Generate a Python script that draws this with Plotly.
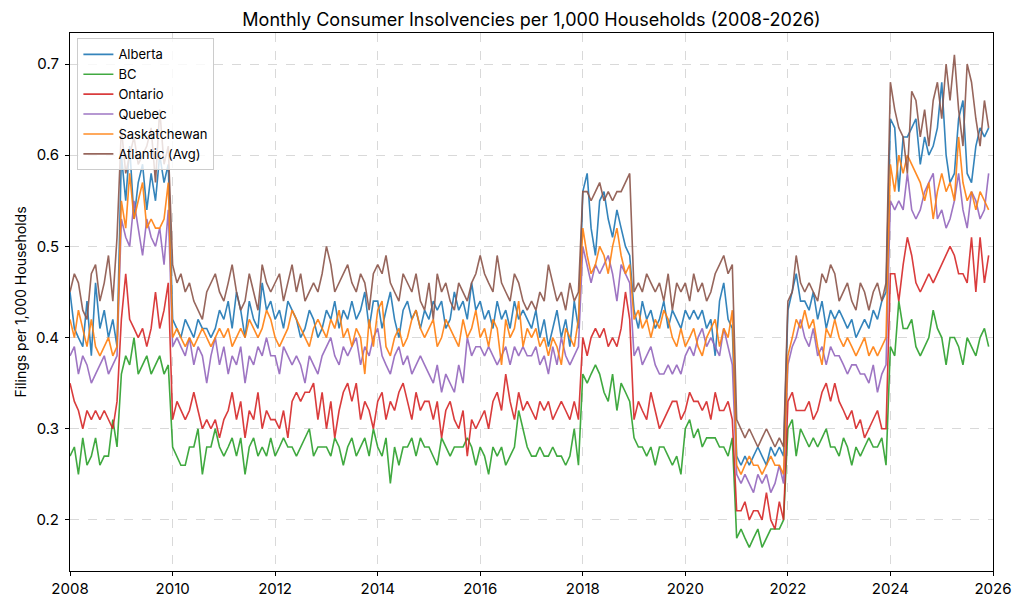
import pandas as pd
import plotly.graph_objects as go

# monthly readings, Jan 2008 .. Dec 2025 (one row per year)
alberta = [
    0.45, 0.41, 0.40, 0.39, 0.44, 0.38, 0.46, 0.41, 0.43, 0.40, 0.42, 0.39,
    0.60, 0.55, 0.61, 0.53, 0.57, 0.59, 0.54, 0.58, 0.55, 0.60, 0.57, 0.59,
    0.42, 0.41, 0.40, 0.42, 0.41, 0.40, 0.42, 0.41, 0.41, 0.40, 0.41, 0.43,
    0.42, 0.44, 0.41, 0.45, 0.43, 0.40, 0.44, 0.42, 0.41, 0.46, 0.43, 0.44,
    0.42, 0.43, 0.41, 0.44, 0.43, 0.42, 0.40, 0.41, 0.43, 0.42, 0.40, 0.41,
    0.43, 0.42, 0.44, 0.41, 0.43, 0.42, 0.44, 0.42, 0.43, 0.45, 0.41, 0.44,
    0.44, 0.41, 0.43, 0.45, 0.42, 0.40, 0.43, 0.44, 0.42, 0.43, 0.41, 0.43,
    0.42, 0.44, 0.43, 0.44, 0.41, 0.42, 0.45, 0.43, 0.44, 0.42, 0.46, 0.43,
    0.44, 0.42, 0.43, 0.41, 0.44, 0.42, 0.43, 0.41, 0.44, 0.42, 0.43, 0.42,
    0.41, 0.43, 0.40, 0.42, 0.39, 0.41, 0.43, 0.40, 0.42, 0.39, 0.44, 0.41,
    0.56, 0.58, 0.52, 0.49, 0.55, 0.56, 0.53, 0.51, 0.54, 0.52, 0.50, 0.49,
    0.43, 0.41, 0.44, 0.42, 0.43, 0.41, 0.42, 0.44, 0.41, 0.43, 0.42, 0.41,
    0.43, 0.42, 0.43, 0.42, 0.43, 0.41, 0.42, 0.38, 0.44, 0.46, 0.42, 0.41,
    0.27, 0.26, 0.27, 0.26, 0.27, 0.28, 0.27, 0.26, 0.28, 0.27, 0.28, 0.27,
    0.43, 0.45, 0.47, 0.44, 0.44, 0.43, 0.45, 0.42, 0.44, 0.41, 0.43, 0.42,
    0.43, 0.42, 0.41, 0.42, 0.40, 0.41, 0.42, 0.41, 0.43, 0.42, 0.44, 0.45,
    0.64, 0.63, 0.56, 0.62, 0.62, 0.63, 0.64, 0.59, 0.62, 0.60, 0.61, 0.63,
    0.68, 0.60, 0.57, 0.58, 0.64, 0.66, 0.58, 0.57, 0.61, 0.63, 0.62, 0.63,
]
bc = [
    0.27, 0.28, 0.25, 0.29, 0.26, 0.27, 0.29, 0.26, 0.27, 0.27, 0.31, 0.28,
    0.36, 0.38, 0.37, 0.40, 0.36, 0.37, 0.38, 0.36, 0.37, 0.38, 0.36, 0.37,
    0.28, 0.27, 0.26, 0.26, 0.28, 0.28, 0.30, 0.25, 0.28, 0.28, 0.30, 0.28,
    0.27, 0.28, 0.29, 0.27, 0.29, 0.25, 0.28, 0.29, 0.27, 0.28, 0.27, 0.29,
    0.27, 0.28, 0.29, 0.28, 0.28, 0.27, 0.28, 0.29, 0.30, 0.27, 0.28, 0.28,
    0.28, 0.27, 0.29, 0.28, 0.26, 0.28, 0.29, 0.27, 0.28, 0.29, 0.27, 0.30,
    0.28, 0.27, 0.29, 0.24, 0.28, 0.26, 0.28, 0.28, 0.29, 0.27, 0.29, 0.28,
    0.28, 0.27, 0.26, 0.29, 0.28, 0.27, 0.28, 0.28, 0.28, 0.29, 0.28, 0.26,
    0.28, 0.27, 0.25, 0.28, 0.27, 0.28, 0.26, 0.27, 0.28, 0.32, 0.30, 0.28,
    0.27, 0.27, 0.28, 0.27, 0.27, 0.28, 0.27, 0.27, 0.26, 0.27, 0.30, 0.26,
    0.36, 0.35, 0.36, 0.37, 0.36, 0.34, 0.33, 0.36, 0.32, 0.35, 0.34, 0.33,
    0.29, 0.28, 0.28, 0.27, 0.28, 0.26, 0.28, 0.28, 0.27, 0.26, 0.27, 0.25,
    0.30, 0.31, 0.29, 0.30, 0.28, 0.29, 0.29, 0.29, 0.28, 0.28, 0.27, 0.29,
    0.18, 0.19, 0.18, 0.17, 0.18, 0.19, 0.17, 0.18, 0.19, 0.19, 0.19, 0.20,
    0.30, 0.31, 0.27, 0.30, 0.29, 0.28, 0.29, 0.28, 0.29, 0.30, 0.28, 0.28,
    0.27, 0.29, 0.28, 0.26, 0.28, 0.27, 0.28, 0.29, 0.28, 0.28, 0.29, 0.26,
    0.39, 0.38, 0.44, 0.41, 0.41, 0.42, 0.39, 0.38, 0.39, 0.40, 0.43, 0.41,
    0.40, 0.37, 0.40, 0.40, 0.39, 0.37, 0.40, 0.39, 0.38, 0.40, 0.41, 0.39,
]
ontario = [
    0.35, 0.33, 0.32, 0.30, 0.32, 0.31, 0.32, 0.31, 0.32, 0.31, 0.30, 0.33,
    0.42, 0.47, 0.42, 0.41, 0.40, 0.41, 0.39, 0.41, 0.45, 0.41, 0.43, 0.46,
    0.31, 0.33, 0.32, 0.31, 0.32, 0.34, 0.32, 0.30, 0.31, 0.30, 0.31, 0.29,
    0.31, 0.32, 0.34, 0.31, 0.33, 0.29, 0.32, 0.31, 0.34, 0.30, 0.32, 0.31,
    0.31, 0.30, 0.32, 0.29, 0.33, 0.34, 0.33, 0.34, 0.34, 0.35, 0.31, 0.34,
    0.30, 0.33, 0.29, 0.32, 0.34, 0.35, 0.33, 0.35, 0.31, 0.33, 0.32, 0.30,
    0.33, 0.34, 0.31, 0.33, 0.32, 0.34, 0.35, 0.33, 0.31, 0.34, 0.32, 0.33,
    0.33, 0.31, 0.33, 0.29, 0.32, 0.33, 0.31, 0.30, 0.32, 0.27, 0.31, 0.30,
    0.31, 0.32, 0.30, 0.33, 0.34, 0.32, 0.36, 0.33, 0.31, 0.34, 0.32, 0.33,
    0.32, 0.31, 0.33, 0.32, 0.33, 0.31, 0.32, 0.33, 0.32, 0.31, 0.33, 0.31,
    0.40, 0.38, 0.40, 0.41, 0.40, 0.41, 0.39, 0.40, 0.39, 0.41, 0.45, 0.42,
    0.31, 0.33, 0.32, 0.31, 0.34, 0.32, 0.30, 0.31, 0.32, 0.33, 0.33, 0.31,
    0.32, 0.34, 0.33, 0.33, 0.32, 0.33, 0.31, 0.34, 0.32, 0.32, 0.33, 0.31,
    0.21, 0.21, 0.22, 0.20, 0.21, 0.21, 0.20, 0.23, 0.20, 0.19, 0.22, 0.20,
    0.33, 0.34, 0.32, 0.32, 0.32, 0.33, 0.31, 0.32, 0.34, 0.35, 0.33, 0.35,
    0.33, 0.32, 0.31, 0.32, 0.30, 0.31, 0.29, 0.30, 0.31, 0.32, 0.30, 0.30,
    0.47, 0.47, 0.44, 0.48, 0.51, 0.49, 0.46, 0.45, 0.46, 0.47, 0.46, 0.47,
    0.48, 0.49, 0.50, 0.49, 0.47, 0.47, 0.46, 0.51, 0.45, 0.51, 0.46, 0.49,
]
quebec = [
    0.38, 0.39, 0.36, 0.38, 0.37, 0.35, 0.36, 0.37, 0.38, 0.36, 0.37, 0.38,
    0.53, 0.51, 0.50, 0.55, 0.52, 0.49, 0.53, 0.51, 0.50, 0.52, 0.48, 0.54,
    0.39, 0.40, 0.39, 0.38, 0.40, 0.37, 0.39, 0.38, 0.35, 0.38, 0.40, 0.37,
    0.39, 0.36, 0.38, 0.37, 0.39, 0.35, 0.38, 0.37, 0.39, 0.38, 0.40, 0.38,
    0.38, 0.36, 0.39, 0.38, 0.37, 0.38, 0.37, 0.35, 0.38, 0.37, 0.36, 0.38,
    0.39, 0.40, 0.38, 0.37, 0.39, 0.38, 0.39, 0.40, 0.37, 0.39, 0.38, 0.40,
    0.41, 0.38, 0.37, 0.36, 0.38, 0.39, 0.37, 0.38, 0.36, 0.37, 0.38, 0.37,
    0.36, 0.35, 0.37, 0.34, 0.36, 0.35, 0.34, 0.37, 0.35, 0.40, 0.38, 0.39,
    0.39, 0.38, 0.39, 0.38, 0.37, 0.38, 0.39, 0.37, 0.39, 0.38, 0.39, 0.38,
    0.38, 0.39, 0.37, 0.38, 0.36, 0.39, 0.37, 0.40, 0.38, 0.37, 0.38, 0.39,
    0.50, 0.48, 0.46, 0.48, 0.47, 0.48, 0.49, 0.47, 0.44, 0.48, 0.47, 0.46,
    0.38, 0.39, 0.37, 0.38, 0.39, 0.37, 0.36, 0.36, 0.37, 0.36, 0.37, 0.36,
    0.38, 0.39, 0.38, 0.40, 0.41, 0.39, 0.40, 0.39, 0.38, 0.41, 0.39, 0.37,
    0.25, 0.24, 0.25, 0.24, 0.23, 0.25, 0.24, 0.25, 0.23, 0.24, 0.26, 0.24,
    0.37, 0.39, 0.40, 0.42, 0.40, 0.39, 0.41, 0.38, 0.39, 0.37, 0.39, 0.38,
    0.38, 0.37, 0.36, 0.37, 0.37, 0.36, 0.36, 0.35, 0.37, 0.34, 0.36, 0.37,
    0.55, 0.54, 0.55, 0.54, 0.58, 0.54, 0.53, 0.54, 0.56, 0.57, 0.58, 0.53,
    0.54, 0.52, 0.53, 0.55, 0.58, 0.54, 0.52, 0.56, 0.55, 0.53, 0.54, 0.58,
]
saskatchewan = [
    0.42, 0.40, 0.43, 0.41, 0.39, 0.42, 0.39, 0.38, 0.39, 0.40, 0.38, 0.39,
    0.55, 0.52, 0.58, 0.53, 0.55, 0.57, 0.52, 0.53, 0.52, 0.52, 0.53, 0.57,
    0.40, 0.41, 0.40, 0.39, 0.40, 0.39, 0.40, 0.41, 0.40, 0.39, 0.40, 0.41,
    0.40, 0.41, 0.39, 0.40, 0.41, 0.40, 0.42, 0.41, 0.40, 0.41, 0.43, 0.42,
    0.40, 0.39, 0.40, 0.41, 0.43, 0.42, 0.41, 0.40, 0.39, 0.41, 0.42, 0.41,
    0.40, 0.42, 0.41, 0.43, 0.40, 0.41, 0.39, 0.41, 0.40, 0.36, 0.42, 0.39,
    0.43, 0.44, 0.39, 0.38, 0.40, 0.41, 0.39, 0.40, 0.42, 0.43, 0.41, 0.40,
    0.41, 0.42, 0.39, 0.40, 0.42, 0.41, 0.40, 0.39, 0.42, 0.40, 0.41, 0.43,
    0.40, 0.41, 0.39, 0.42, 0.41, 0.37, 0.42, 0.40, 0.41, 0.44, 0.39, 0.41,
    0.40, 0.41, 0.39, 0.40, 0.38, 0.40, 0.39, 0.37, 0.41, 0.40, 0.39, 0.42,
    0.52, 0.49, 0.47, 0.48, 0.50, 0.49, 0.47, 0.50, 0.52, 0.49, 0.47, 0.48,
    0.42, 0.43, 0.41, 0.42, 0.40, 0.42, 0.41, 0.43, 0.42, 0.40, 0.39, 0.41,
    0.39, 0.40, 0.41, 0.39, 0.38, 0.40, 0.41, 0.42, 0.39, 0.41, 0.40, 0.43,
    0.26, 0.25, 0.26, 0.27, 0.26, 0.26, 0.25, 0.26, 0.27, 0.26, 0.26, 0.25,
    0.38, 0.40, 0.42, 0.41, 0.43, 0.41, 0.42, 0.39, 0.37, 0.41, 0.40, 0.42,
    0.40, 0.39, 0.40, 0.39, 0.38, 0.39, 0.40, 0.38, 0.39, 0.38, 0.39, 0.40,
    0.59, 0.56, 0.60, 0.58, 0.60, 0.59, 0.58, 0.57, 0.55, 0.57, 0.53, 0.56,
    0.58, 0.56, 0.57, 0.55, 0.62, 0.57, 0.55, 0.56, 0.54, 0.56, 0.55, 0.54,
]
atlantic = [
    0.45, 0.47, 0.46, 0.43, 0.42, 0.47, 0.48, 0.44, 0.46, 0.49, 0.44, 0.51,
    0.63, 0.58, 0.60, 0.62, 0.59, 0.60, 0.61, 0.63, 0.57, 0.65, 0.59, 0.61,
    0.48, 0.46, 0.47, 0.45, 0.46, 0.44, 0.43, 0.42, 0.45, 0.46, 0.47, 0.45,
    0.44, 0.46, 0.48, 0.45, 0.43, 0.44, 0.47, 0.45, 0.43, 0.48, 0.46, 0.45,
    0.46, 0.47, 0.44, 0.46, 0.48, 0.45, 0.47, 0.44, 0.45, 0.46, 0.45, 0.47,
    0.50, 0.48, 0.45, 0.46, 0.47, 0.48, 0.46, 0.45, 0.47, 0.46, 0.43, 0.47,
    0.48, 0.47, 0.49, 0.46, 0.45, 0.44, 0.47, 0.46, 0.45, 0.47, 0.44, 0.43,
    0.46, 0.42, 0.47, 0.45, 0.46, 0.44, 0.43, 0.46, 0.45, 0.44, 0.46, 0.47,
    0.49, 0.47, 0.46, 0.45, 0.49, 0.46, 0.45, 0.44, 0.47, 0.46, 0.44, 0.43,
    0.44, 0.43, 0.45, 0.44, 0.48, 0.46, 0.44, 0.45, 0.43, 0.46, 0.44, 0.45,
    0.56, 0.56, 0.55, 0.56, 0.57, 0.55, 0.56, 0.55, 0.56, 0.56, 0.57, 0.58,
    0.45, 0.46, 0.45, 0.47, 0.46, 0.45, 0.46, 0.44, 0.47, 0.43, 0.46, 0.45,
    0.46, 0.44, 0.47, 0.45, 0.46, 0.44, 0.45, 0.47, 0.48, 0.49, 0.47, 0.48,
    0.31, 0.30, 0.29, 0.30, 0.29, 0.28, 0.29, 0.30, 0.29, 0.28, 0.29, 0.28,
    0.44, 0.45, 0.49, 0.46, 0.45, 0.46, 0.45, 0.44, 0.47, 0.46, 0.48, 0.47,
    0.44, 0.45, 0.46, 0.44, 0.43, 0.46, 0.45, 0.43, 0.45, 0.46, 0.44, 0.46,
    0.68, 0.65, 0.63, 0.62, 0.58, 0.67, 0.66, 0.62, 0.65, 0.61, 0.66, 0.68,
    0.64, 0.70, 0.66, 0.71, 0.65, 0.61, 0.70, 0.68, 0.64, 0.61, 0.66, 0.63,
]

regions = ["Alberta", "BC", "Ontario", "Quebec", "Saskatchewan", "Atlantic (Avg)"]
colors = ["#1f77b4", "#2ca02c", "#d62728", "#9467bd", "#ff7f0e", "#8c564b"]
series = [alberta, bc, ontario, quebec, saskatchewan, atlantic]

months = pd.date_range("2008-01-01", periods=len(alberta), freq="MS")

fig = go.Figure()
for name, vals, col in zip(regions, series, colors):
    fig.add_trace(go.Scatter(x=months, y=vals, mode="lines", name=name,
                             line=dict(color=col, width=1.6), opacity=0.9))

axis_style = dict(showline=True, linecolor="black", linewidth=1, mirror=True,
                  ticks="outside", ticklen=4, tickcolor="black",
                  showgrid=True, gridcolor="#d9d9d9", griddash="dash", gridwidth=1,
                  zeroline=False, tickfont=dict(size=15, color="black"))

# page body adds an 8px offset, margins are shifted to compensate
fig.update_layout(
    width=1022, height=607,
    margin=dict(l=57, r=37, t=25, b=44),
    paper_bgcolor="white", plot_bgcolor="white",
    font=dict(family="Inter, Lato, sans-serif", color="black"),
    title=dict(text="Monthly Consumer Insolvencies per 1,000 Households (2008-2026)",
               x=0.5, xref="paper", xanchor="center", y=0.981, yanchor="middle",
               font=dict(size=18)),
    legend=dict(x=0.008, y=0.99, xanchor="left", yanchor="top",
                bgcolor="rgba(255,255,255,0.8)", bordercolor="#cccccc", borderwidth=1,
                font=dict(size=13), tracegroupgap=0),
    showlegend=True,
)
fig.update_xaxes(range=["2008-01-01", "2026-01-01"], dtick="M24", tickformat="%Y",
                 tick0="2008-01-01", **axis_style)
fig.update_yaxes(range=[0.144, 0.734], dtick=0.1, tickformat=".1f", ticklabelstandoff=3,
                 title=dict(text="Filings per 1,000 Households", font=dict(size=14), standoff=6),
                 **axis_style)

fig.write_html("out.html")
